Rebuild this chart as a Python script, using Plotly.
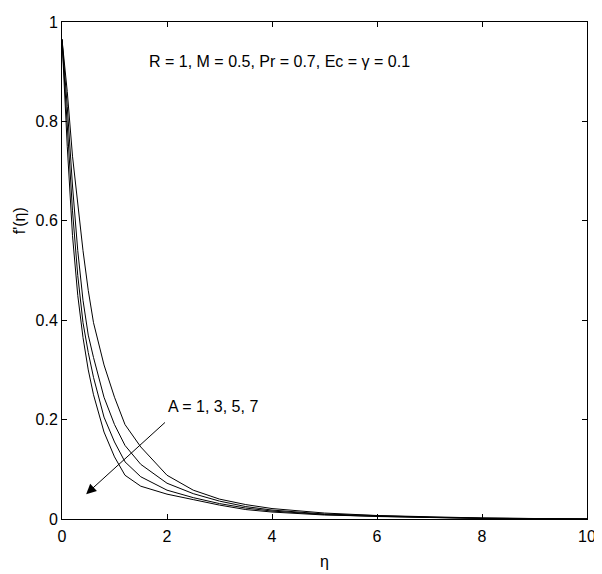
import plotly.graph_objects as go

eta = [0, 0.1, 0.2, 0.3, 0.4, 0.5, 0.6, 0.8, 1.0, 1.2, 1.5, 2.0, 2.5, 3.0, 3.5, 4.0, 5.0, 6.0, 7.0, 8.0, 9.0, 10.0]

fp_A1 = [0.965, 0.86, 0.73, 0.63, 0.54, 0.46, 0.395, 0.31, 0.245, 0.19, 0.145, 0.088, 0.058, 0.040, 0.029, 0.021, 0.012, 0.007, 0.004, 0.002, 0.001, 0.0]
fp_A3 = [0.965, 0.83, 0.67, 0.54, 0.44, 0.37, 0.325, 0.245, 0.19, 0.148, 0.11, 0.072, 0.051, 0.036, 0.025, 0.018, 0.010, 0.006, 0.0035, 0.0018, 0.0008, 0.0]
fp_A5 = [0.965, 0.80, 0.62, 0.49, 0.395, 0.335, 0.285, 0.205, 0.155, 0.115, 0.085, 0.058, 0.043, 0.031, 0.022, 0.016, 0.009, 0.005, 0.003, 0.0015, 0.0006, 0.0]
fp_A7 = [0.965, 0.75, 0.57, 0.45, 0.365, 0.30, 0.25, 0.175, 0.125, 0.088, 0.066, 0.050, 0.039, 0.028, 0.019, 0.014, 0.008, 0.005, 0.003, 0.001, 0.0005, 0.0]

series = [("A = 1", fp_A1), ("A = 3", fp_A3), ("A = 5", fp_A5), ("A = 7", fp_A7)]

x_ticks = [0, 2, 4, 6, 8, 10]
y_ticks = [0, 0.2, 0.4, 0.6, 0.8, 1]
y_ticktext = ["0", "0.2", "0.4", "0.6", "0.8", "1"]

FONT = "Liberation Sans, Arial, sans-serif"

fig = go.Figure()
for name, ys in series:
    fig.add_trace(go.Scatter(x=eta, y=ys, mode="lines", name=name,
                             line=dict(color="black", width=1), showlegend=False))

axis_common = dict(showline=True, linecolor="black", linewidth=1, mirror="ticks",
                   ticks="inside", ticklen=5, tickcolor="black", showgrid=False,
                   zeroline=False, ticklabeloverflow="allow",
                   tickfont=dict(family=FONT, size=16, color="black"))

# page body keeps an 8px default margin, so the figure is 8px smaller than the window
fig.update_layout(
    width=594, height=566,
    margin=dict(l=54, r=8, t=6, b=55),
    paper_bgcolor="white", plot_bgcolor="white",
    font=dict(family=FONT, size=16, color="black"),
    xaxis=dict(range=[0, 10], tickvals=x_ticks, ticktext=[str(v) for v in x_ticks],
               ticklabelstandoff=3, **axis_common),
    yaxis=dict(range=[0, 1], tickvals=y_ticks, ticktext=y_ticktext, **axis_common),
)

# axis labels
fig.add_annotation(x=0.5, y=-0.085, xref="paper", yref="paper", text="η",
                   showarrow=False, xanchor="center", yanchor="middle",
                   font=dict(family=FONT, size=16, color="black"))
fig.add_annotation(x=-0.081, y=0.6, xref="paper", yref="paper", text="f'(η)",
                   textangle=-90, showarrow=False, xanchor="center", yanchor="middle",
                   font=dict(family=FONT, size=16, color="black"))

fig.add_annotation(x=1.62, y=0.921, xref="x", yref="y", text="R = 1, M = 0.5, Pr = 0.7, Ec = γ = 0.1",
                   showarrow=False, xanchor="left", yanchor="middle",
                   font=dict(family=FONT, size=16, color="black"))
fig.add_annotation(x=1.99, y=0.226, xref="x", yref="y", text="A = 1, 3, 5, 7",
                   showarrow=False, xanchor="left", yanchor="middle",
                   font=dict(family=FONT, size=16, color="black"))
fig.add_annotation(x=0.46, y=0.05, ax=1.99, ay=0.197, xref="x", yref="y", axref="x", ayref="y",
                   text="", showarrow=True, arrowhead=2, arrowsize=2, arrowwidth=1, arrowcolor="black")

fig.write_html("out.html")
